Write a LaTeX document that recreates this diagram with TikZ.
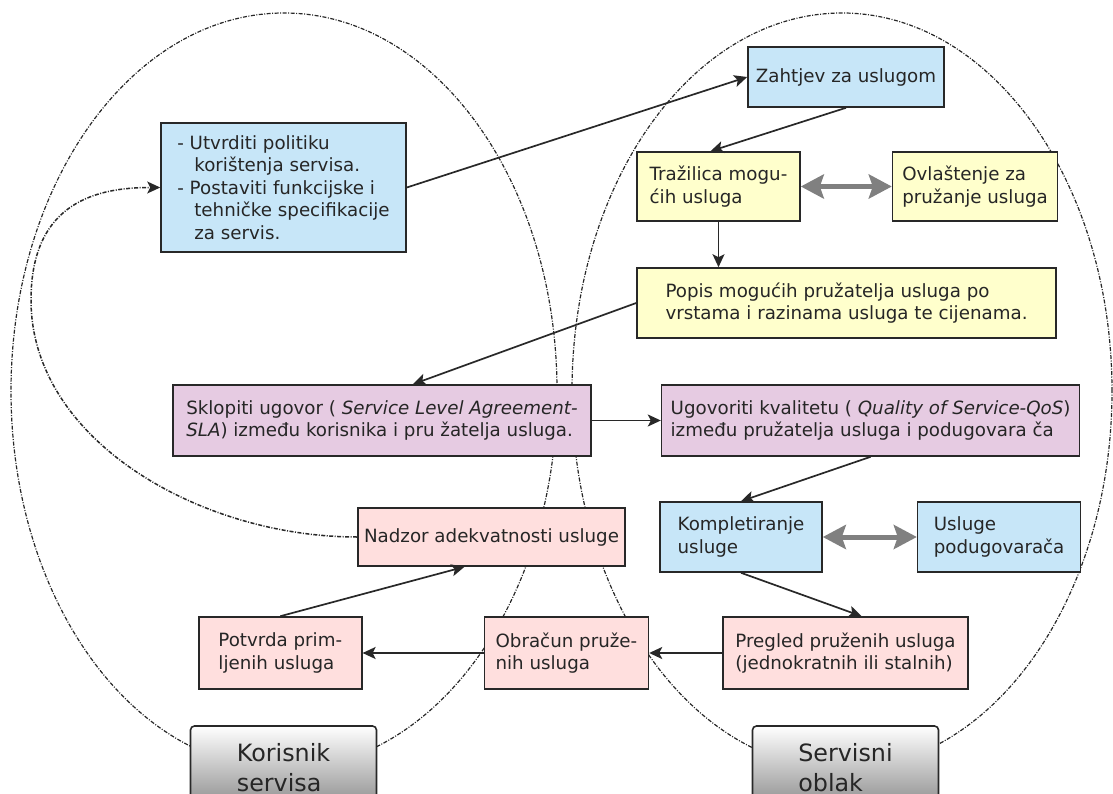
\documentclass[tikz,border=0pt]{standalone}
\usepackage{fontspec}
\setmainfont{DejaVu Sans}
\usetikzlibrary{arrows.meta, positioning, calc}
\definecolor{LightBlue}{RGB}{199,230,248}
\definecolor{LightYellow}{RGB}{255,255,204}
\definecolor{LightViolet}{RGB}{230,203,226}
\definecolor{LightRose}{RGB}{255,223,222}
\definecolor{MidGray}{RGB}{128,128,128}
\definecolor{DarkFrame}{RGB}{40,40,40}

\begin{document}
\begin{tikzpicture}[
    x=1pt, y=-1pt,
    font=\fontsize{18.25}{22.5}\selectfont,
    flow/.style={-{Stealth[length=13pt, width=12pt, inset=3pt]}, line width=1.7pt, DarkFrame},
    swap/.style={{Stealth[length=23pt, width=24pt, inset=4pt]}-{Stealth[length=23pt, width=24pt, inset=4pt]},
        line width=5pt, MidGray},
    oval/.style={draw=DarkFrame, line width=1.2pt, dash pattern=on 4pt off 1.5pt on 1pt off 1.5pt},
    loopback/.style={-{Stealth[length=13pt, width=12pt, inset=3pt]}, line width=1.5pt, DarkFrame,
        dash pattern=on 4pt off 1.5pt on 1pt off 1.5pt},
    blk/.style={draw=DarkFrame, line width=1.6pt, align=left, inner sep=0pt, text=black!85},
    side/.style={draw=DarkFrame, line width=1.6pt, rounded corners=4pt, top color=white,
        bottom color=black!45, align=left, minimum width=186pt, minimum height=82pt,
        inner sep=0pt, text=black!85, font=\fontsize{23.8}{30}\selectfont},
]
\clip (0,0) rectangle (1113,794);

% dva podrucja
\draw[oval] (284,391) ellipse [x radius=273pt, y radius=378pt];
\draw[oval] (842,391) ellipse [x radius=270pt, y radius=378pt];

% ================= LIJEVO: korisnik =================
\node[blk, fill=LightBlue, minimum width=245pt, minimum height=129pt] (politika) at (283.5,187.5)
    {- Utvrditi politiku\\\hspace*{17pt}korištenja servisa.\\- Postaviti funkcijske i\\
     \hspace*{17pt}tehničke specifikacije\\\hspace*{17pt}za servis.};

% ================= DESNO: oblak =================
\node[blk, fill=LightBlue, minimum width=196pt, minimum height=60pt] (zahtjev) at (846,77) {Zahtjev za uslugom};
\node[blk, fill=LightYellow, minimum width=163pt, minimum height=69pt] (trazilica) at (718.5,186.5)
    {Tražilica mogu-\\ćih usluga};
\node[blk, fill=LightYellow, minimum width=165pt, minimum height=69pt, right=91pt of trazilica] (ovlastenje)
    {Ovlaštenje za\\pružanje usluga};
\node[blk, fill=LightYellow, minimum width=419pt, minimum height=70pt] (popis) at (846.5,303)
    {Popis mogućih pružatelja usluga po\\vrstama i razinama usluga te cijenama.};

% ugovori
\node[blk, fill=LightViolet, minimum width=418pt, minimum height=71pt] (sla) at (382,420.5)
    {Sklopiti ugovor ( \textit{Service Level Agreement-}\\\textit{SLA}) između korisnika i pru žatelja usluga.};
\node[blk, fill=LightViolet, minimum width=418pt, minimum height=71pt, right=69pt of sla] (qos)
    {Ugovoriti kvalitetu ( \textit{Quality of Service-QoS})\\između pružatelja usluga i podugovara ča};

% izvrsenje i nadzor
\node[blk, fill=LightBlue, minimum width=162pt, minimum height=70pt] (kompletiranje) at (741,537)
    {Kompletiranje\\usluge};
\node[blk, fill=LightBlue, minimum width=163pt, minimum height=70pt, right=94pt of kompletiranje] (podugovaraci)
    {Usluge\\podugovarača};
\node[blk, fill=LightRose, minimum width=267pt, minimum height=58pt] (nadzor) at (491.5,537)
    {Nadzor adekvatnosti usluge};
\node[blk, fill=LightRose, minimum width=245pt, minimum height=72pt] (pregled) at (845.5,653)
    {Pregled pruženih usluga\\(jednokratnih ili stalnih)};
\node[blk, fill=LightRose, minimum width=164pt, minimum height=72pt, left=73pt of pregled] (obracun)
    {Obračun pruže-\\nih usluga};
\node[blk, fill=LightRose, minimum width=163pt, minimum height=72pt, left=121pt of obracun] (potvrda)
    {Potvrda prim-\\ljenih usluga};

% oznake podrucja
\node[side, text depth=0pt] (korisnik) at (283.5,767) {Korisnik\\servisa};
\node[side, text depth=0pt] (oblak) at (845.5,767) {Servisni\\oblak};

% tok
\draw[flow] (politika.east) -- (zahtjev.west);
\draw[flow] (zahtjev.south) -- ([xshift=-8pt]trazilica.north);
\draw[swap] (trazilica) -- (ovlastenje);
\draw[flow] (trazilica.south) -- (trazilica.south |- popis.north);
\draw[flow] (popis.west) -- ([xshift=31pt]sla.north);
\draw[flow] (sla) -- (qos);
\draw[flow] (qos.south) -- (kompletiranje.north);
\draw[swap] (kompletiranje) -- (podugovaraci);
\draw[flow] (kompletiranje.south) -- ([xshift=16pt]pregled.north);
\draw[flow] (pregled) -- (obracun);
\draw[flow] (obracun) -- (potvrda);
\draw[flow] (potvrda.north) -- ([xshift=-27pt]nadzor.south);

% povratna veza
\draw[loopback] (nadzor.west) .. controls (200,537) and (31,440) .. (31,300)
    .. controls (31,200) and (100,187.5) .. (politika.west);

\end{tikzpicture}
\end{document}
